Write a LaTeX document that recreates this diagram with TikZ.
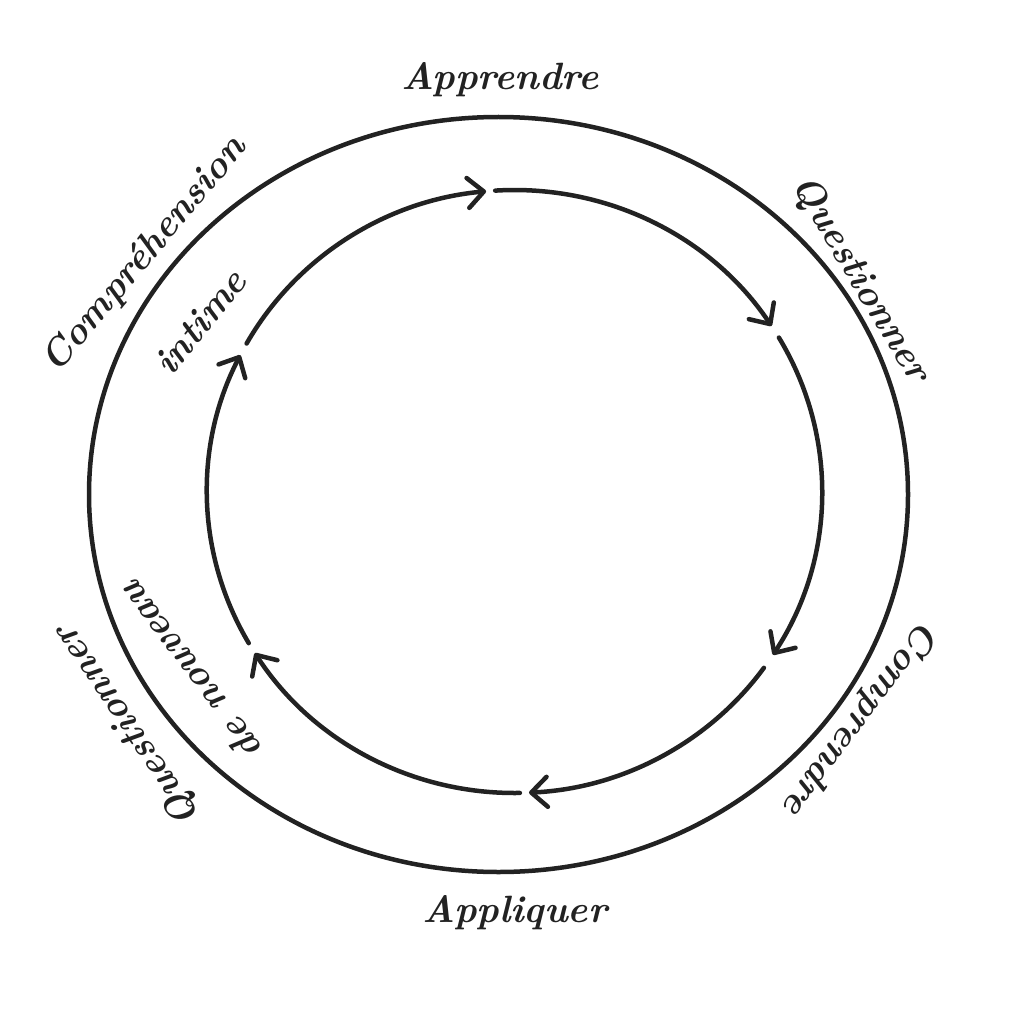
\documentclass[tikz,border=0pt]{standalone}
\usetikzlibrary{arrows.meta}
\definecolor{ink}{HTML}{222222}
\tikzset{
  ring/.style={draw=ink, line width=4.5pt},
  flow/.style={draw=ink, line width=4.5pt, line cap=round,
    -{Straight Barb[length=16pt,width=30pt,round]}},
  lbl/.style={text=ink, font=\fontsize{38}{42}\selectfont\bfseries\itshape, inner sep=0pt},
}
\begin{document}
\begin{tikzpicture}[x=1pt,y=1pt]
\useasboundingbox (0,0) rectangle (1024,-1024);
% outer ring
\coordinate (oc) at (498.5,-494.5);
\draw[ring] (oc) ellipse [x radius=409.5, y radius=377.5];
% inner cycle
\coordinate (ic) at (514.5,-491.5);
\def\rx{307.5}\def\ry{301.5}
\draw[flow] (ic) ++(150.6:\rx pt and \ry pt) arc[start angle=150.6, end angle=95.3, x radius=\rx, y radius=\ry];
\draw[flow] (ic) ++(93.6:\rx pt and \ry pt) arc[start angle=93.6, end angle=33.3, x radius=\rx, y radius=\ry];
\draw[flow] (ic) ++(30.7:\rx pt and \ry pt) arc[start angle=30.7, end angle=-32.8, x radius=\rx, y radius=\ry];
\draw[flow] (ic) ++(-35.8:\rx pt and \ry pt) arc[start angle=-35.8, end angle=-87.3, x radius=\rx, y radius=\ry];
\draw[flow] (ic) ++(-89:\rx pt and \ry pt) arc[start angle=-89, end angle=-147.6, x radius=\rx, y radius=\ry];
\draw[flow] (ic) ++(210.2:\rx pt and \ry pt) arc[start angle=210.2, end angle=153.1, x radius=\rx, y radius=\ry];
% labels
\node[lbl] (t1) at (500,-80) {Apprendre};
\node[lbl, rotate=-59] (t2) at (860,-280) {Questionner};
\node[lbl, rotate=-127] (t3) at (860,-718) {Comprendre};
\node[lbl] (t4) at (515,-913) {Appliquer};
\node[lbl, rotate=124] (t5) at (128,-725) {Questionner};
\node[lbl, rotate=127] (t6) at (190,-672) {de nouveau};
\node[lbl, rotate=50] (t7) at (145,-255) {Compréhension};
\node[lbl, rotate=51] (t8) at (200,-322) {intime};
\end{tikzpicture}
\end{document}
